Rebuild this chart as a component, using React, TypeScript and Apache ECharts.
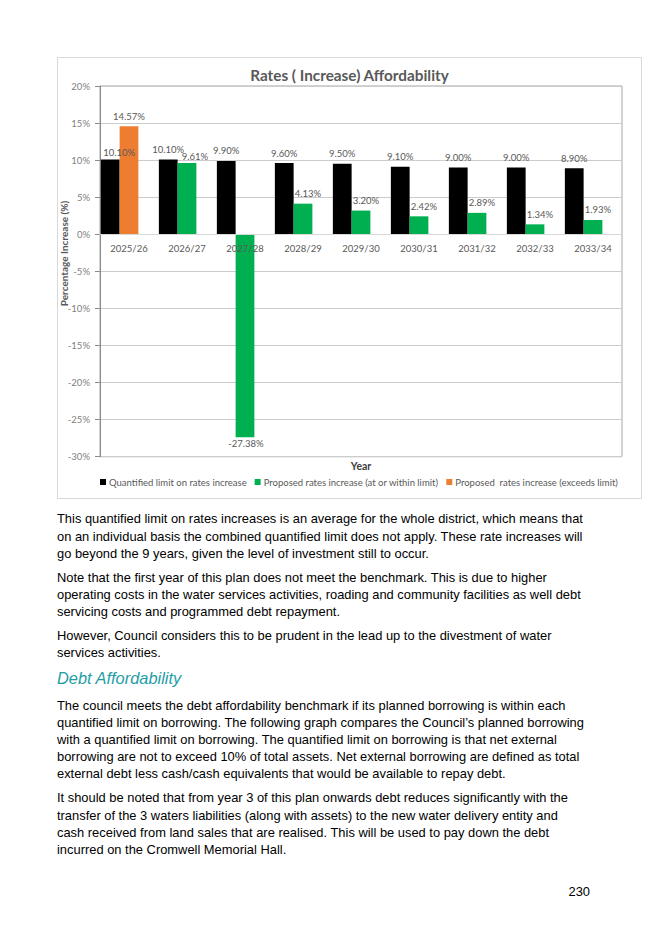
import React, { useEffect, useRef } from "react";
import * as echarts from "echarts";

const categories = ["2025/26", "2026/27", "2027/28", "2028/29", "2029/30", "2030/31", "2031/32", "2032/33", "2033/34"];
const limitValues = [10.1, 10.1, 9.9, 9.6, 9.5, 9.1, 9.0, 9.0, 8.9];
const withinValues: (number | null)[] = [null, 9.61, -27.38, 4.13, 3.2, 2.42, 2.89, 1.34, 1.93];
const exceedsValues: (number | null)[] = [14.57, null, null, null, null, null, null, null, null];
const seriesNames = [
  "Quantified limit on rates increase",
  "Proposed rates increase (at or within limit)",
  "Proposed  rates increase (exceeds limit)",
];
const chartTitle = "Rates ( Increase) Affordability";
const yAxisTitle = "Percentage Increase (%)";
const xAxisTitle = "Year";
const yMin = -30;
const yMax = 20;
const yStep = 5;

const paragraphs: string[][] = [
  [
    "This quantified limit on rates increases is an average for the whole district, which means that",
    "on an individual basis the combined quantified limit does not apply. These rate increases will",
    "go beyond the 9 years, given the level of investment still to occur.",
  ],
  [
    "Note that the first year of this plan does not meet the benchmark. This is due to higher",
    "operating costs in the water services activities, roading and community facilities as well debt",
    "servicing costs and programmed debt repayment.",
  ],
  [
    "However, Council considers this to be prudent in the lead up to the divestment of water",
    "services activities.",
  ],
];
const heading = "Debt Affordability";
const paragraphs2: string[][] = [
  [
    "The council meets the debt affordability benchmark if its planned borrowing is within each",
    "quantified limit on borrowing. The following graph compares the Council\u2019s planned borrowing",
    "with a quantified limit on borrowing. The quantified limit on borrowing is that net external",
    "borrowing are not to exceed 10% of total assets. Net external borrowing are defined as total",
    "external debt less cash/cash equivalents that would be available to repay debt.",
  ],
  [
    "It should be noted that from year 3 of this plan onwards debt reduces significantly with the",
    "transfer of the 3 waters liabilities (along with assets) to the new water delivery entity and",
    "cash received from land sales that are realised. This will be used to pay down the debt",
    "incurred on the Cromwell Memorial Hall.",
  ],
];
const pageNumber = "230";

const CHART_FONT = "Lato, 'Open Sans', sans-serif";
const BODY_FONT = "'Liberation Sans', Arial, sans-serif";
const BODY_SIZE = 12.9;
const LINE_H = 17.2;

const GRID_TOP = 86;
const GRID_HEIGHT = 370.7;

function fmt(p: any) {
  const v = typeof p.value === "number" ? p.value : p.value?.value;
  return v == null ? "" : Number(v).toFixed(2) + "%";
}

export default function App() {
  const ref = useRef<HTMLDivElement>(null);
  useEffect(() => {
    if (!ref.current) return;
    const chart = echarts.init(ref.current, null, { renderer: "svg" });

    const textEls: any[] = [];
    const addBlock = (blocks: string[][], startY: number, paraGap: number) => {
      let y = startY;
      blocks.forEach((lines) => {
        lines.forEach((ln) => {
          textEls.push({
            type: "text",
            x: 57,
            y,
            style: {
              text: ln,
              fill: "#000",
              font: `${BODY_SIZE}px ${BODY_FONT}`,
              textAlign: "left",
              textVerticalAlign: "middle",
            },
          });
          y += LINE_H;
        });
        y += paraGap - LINE_H;
      });
    };
    addBlock(paragraphs, 518.8, 24.0);
    addBlock(paragraphs2, 705, 24.0);

    // place the category axis on the zero line
    const zeroOffset = -((0 - yMin) / (yMax - yMin)) * GRID_HEIGHT;

    const labelBase = {
      show: true,
      position: "top" as const,
      distance: 5,
      formatter: fmt,
      color: "#595959",
      fontSize: 9.5,
      fontFamily: CHART_FONT,
    };

    const option: any = {
      animation: false,
      backgroundColor: "#fff",
      textStyle: { fontFamily: CHART_FONT },
      grid: {
        left: 100,
        top: GRID_TOP,
        width: 522,
        height: GRID_HEIGHT,
        show: true,
        borderColor: "#a6a6a6",
        borderWidth: 1,
        containLabel: false,
      },
      legend: {
        data: seriesNames,
        left: 100,
        top: 477,
        icon: "rect",
        itemWidth: 6,
        itemHeight: 6,
        itemGap: 8,
        padding: 0,
        textStyle: { color: "#595959", fontSize: 9.5, fontFamily: CHART_FONT, padding: [0, 0, 0, -2] },
        selectedMode: false,
      },
      xAxis: {
        type: "category",
        data: categories,
        z: 10,
        position: "bottom",
        offset: zeroOffset,
        axisLine: { show: true, onZero: false, lineStyle: { color: "#d9d9d9" } },
        axisTick: { show: false },
        axisLabel: { color: "#595959", fontSize: 9.5, margin: 9, fontFamily: CHART_FONT },
        splitLine: { show: false },
      },
      yAxis: {
        type: "value",
        min: yMin,
        max: yMax,
        interval: yStep,
        axisLine: { show: true, onZero: false, lineStyle: { color: "#8c8c8c" } },
        axisTick: { show: true, length: 5, lineStyle: { color: "#8c8c8c" } },
        axisLabel: { formatter: "{value}%", color: "#808080", fontSize: 9.5, margin: 10, fontFamily: CHART_FONT },
        splitLine: { show: true, lineStyle: { color: "#cccccc" } },
      },
      series: [
        {
          name: seriesNames[0],
          type: "bar",
          barGap: "0%",
          barCategoryGap: "3%",
          itemStyle: { color: "#000000" },
          label: labelBase,
          data: limitValues.map((v, i) => (i === 0 ? { value: v, label: { offset: [9, 3] } } : v)),
        },
        {
          name: seriesNames[1],
          type: "bar",
          stack: "proposed",
          barGap: "0%",
          barCategoryGap: "3%",
          itemStyle: { color: "#00b050" },
          label: { ...labelBase, offset: [5, 0] },
          data: withinValues.map((v, i) =>
            v == null
              ? null
              : v < 0
              ? { value: v, label: { position: "bottom", distance: 1, offset: [1, 0] } }
              : i === 1
              ? { value: v, label: { offset: [8, 3] } }
              : v
          ),
        },
        {
          name: seriesNames[2],
          type: "bar",
          stack: "proposed",
          barGap: "0%",
          barCategoryGap: "3%",
          itemStyle: { color: "#ed7d31" },
          label: labelBase,
          data: exceedsValues,
        },
        {
          name: "_slot",
          type: "bar",
          barGap: "0%",
          barCategoryGap: "3%",
          silent: true,
          data: categories.map(() => null),
        },
      ],
      graphic: [
        {
          type: "rect",
          z: -10,
          shape: { x: 57.5, y: 57.5, width: 584, height: 441 },
          style: { fill: "none", stroke: "#d9d9d9", lineWidth: 1 },
        },
        {
          type: "text",
          x: 349.5,
          y: 75,
          style: {
            text: chartTitle,
            fill: "#595959",
            font: `bold 15.3px ${CHART_FONT}`,
            textAlign: "center",
            textVerticalAlign: "middle",
          },
        },
        {
          type: "text",
          x: 64,
          y: 253.5,
          rotation: Math.PI / 2,
          style: {
            text: yAxisTitle,
            fill: "#595959",
            font: `bold 10px ${CHART_FONT}`,
            textAlign: "center",
            textVerticalAlign: "middle",
          },
        },
        {
          type: "text",
          x: 361,
          y: 466,
          style: {
            text: xAxisTitle,
            fill: "#404040",
            font: `bold 10.5px ${CHART_FONT}`,
            textAlign: "center",
            textVerticalAlign: "middle",
          },
        },
        {
          type: "text",
          x: 57,
          y: 678,
          style: {
            text: heading,
            fill: "#1f9ea6",
            font: `italic 16.4px ${BODY_FONT}`,
            textAlign: "left",
            textVerticalAlign: "middle",
          },
        },
        {
          type: "text",
          x: 590,
          y: 891.7,
          style: {
            text: pageNumber,
            fill: "#000",
            font: `${BODY_SIZE}px ${BODY_FONT}`,
            textAlign: "right",
            textVerticalAlign: "middle",
          },
        },
        ...textEls,
      ],
    };
    chart.setOption(option);
    return () => chart.dispose();
  }, []);

  return (
    <div
      ref={ref}
      style={{ position: "absolute", left: 0, top: 0, width: 645, height: 934, background: "#fff" }}
    />
  );
}
